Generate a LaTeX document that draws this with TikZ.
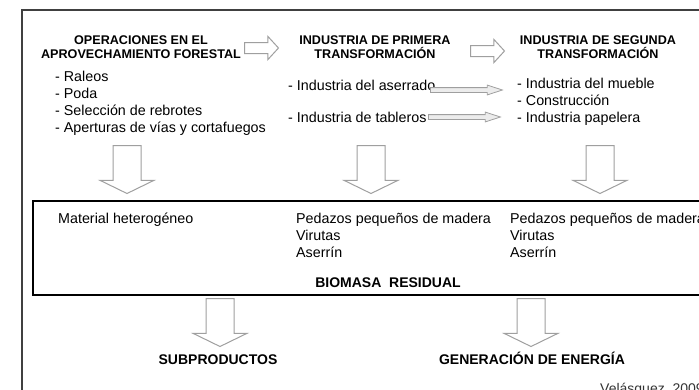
\documentclass[tikz,border=0pt]{standalone}
\usepackage{fontspec}
\setmainfont{Liberation Sans}
\usepackage{tikz}
\usetikzlibrary{positioning,shapes,shapes.arrows,calc}
\tikzstyle{heading}=[font=\fontsize{12.6}{14}\selectfont\bfseries, align=center, inner sep=0pt]
\tikzstyle{label}=[font=\fontsize{14}{16}\selectfont\bfseries, inner sep=0pt, anchor=base]
\tikzstyle{item}=[font=\fontsize{14.3}{17}\selectfont, align=left, anchor=north west, inner sep=0pt]
\tikzstyle{flowarrow}=[single arrow, draw=gray!75, fill=white, line width=1pt, inner xsep=0pt, inner ysep=5pt, single arrow head extend=6pt, single arrow tip angle=95, minimum height=34pt, anchor=tail]
\tikzstyle{downarrow}=[single arrow, draw=gray!75, fill=white, line width=1pt, inner xsep=0pt, inner ysep=13.5pt, single arrow head extend=13pt, single arrow tip angle=128, minimum height=48pt, anchor=tail, rotate=-90]
\tikzstyle{thinarrow}=[single arrow, draw=gray!75, fill=gray!15, line width=0.8pt, inner xsep=0pt, inner ysep=2pt, single arrow head extend=2.5pt, single arrow tip angle=36, minimum height=72pt, anchor=tail]

\begin{document}
\begin{tikzpicture}[x=1pt,y=-1pt]
        \useasboundingbox (0,0) rectangle (699,389);
        \draw[line width=1.3pt, black!75] (22,400) |- (710,10);

        \node[heading] (oper) at (141,47) {OPERACIONES EN EL\\APROVECHAMIENTO FORESTAL};
        \node[heading] (prim) at (375,47) {INDUSTRIA DE PRIMERA\\TRANSFORMACIÓN};
        \node[heading] (segu) at (598,47) {INDUSTRIA DE SEGUNDA\\TRANSFORMACIÓN};
        \node[flowarrow] (toprim) at (244,48) {};
        \node[flowarrow] (toseg) at (470,51) {};

        \node[item] (forest) at (55,71) {- Raleos\\- Poda\\- Selección de rebrotes\\- Aperturas de vías y cortafuegos};
        \node[item] (aserrado) at (288,80) {- Industria del aserrado};
        \node[item] (tableros) at (288,112) {- Industria de tableros};
        \node[item] (usos) at (517,78) {- Industria del mueble\\- Construcción\\- Industria papelera};
        \node[thinarrow] (toaserr) at (430,90) {};
        \node[thinarrow] (totabl) at (428,117) {};

        \node[downarrow] (down1) at (127,145) {};
        \node[downarrow] (down2) at (371,145) {};
        \node[downarrow] (down3) at (600,145) {};

        \draw[line width=1.4pt] (33,201) rectangle (720,295);
        \node[item] (mat) at (58,213) {Material heterogéneo};
        \node[item] (resto1) at (296,213) {Pedazos pequeños de madera\\Virutas\\Aserrín};
        \node[item] (resto2) at (510,213) {Pedazos pequeños de madera\\Virutas\\Aserrín};
        \node[label] (biomasa) at (388,287) {BIOMASA\ \ RESIDUAL};

        \node[downarrow] (down4) at (220,298) {};
        \node[downarrow] (down5) at (531,298) {};
        \node[label] (subp) at (218,364) {SUBPRODUCTOS};
        \node[label] (energia) at (532,364) {GENERACIÓN DE ENERGÍA};
        \node[font=\fontsize{14}{16}\selectfont, text=black!80, inner sep=0pt, anchor=base west] (fuente) at (600,393) {Velásquez, 2009};
    \end{tikzpicture}
\end{document}
